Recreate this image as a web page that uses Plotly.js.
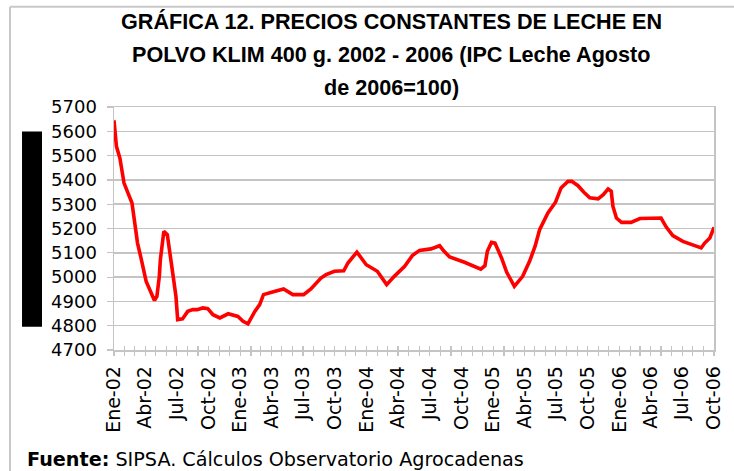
<!DOCTYPE html>
<html>
<head>
<meta charset="utf-8">
<script src="https://cdn.plot.ly/plotly-3.0.1.min.js"></script>
<style>html,body{margin:0;padding:0;background:#fff;}#chart{width:734px;height:471px;}</style>
</head>
<body>
<div id="chart"></div>
<script>
var fechas = ['2002-01-01','2002-01-08','2002-01-18','2002-01-30','2002-02-22','2002-03-10','2002-03-19','2002-04-04','2002-04-28','2002-05-05','2002-05-12','2002-05-15','2002-05-25','2002-06-04','2002-06-17','2002-06-29','2002-07-04','2002-07-18','2002-08-02','2002-08-17','2002-08-29','2002-09-15','2002-09-29','2002-10-14','2002-11-03','2002-11-27','2002-12-25','2003-01-09','2003-01-23','2003-02-12','2003-02-26','2003-03-09','2003-03-30','2003-05-06','2003-06-02','2003-07-03','2003-07-24','2003-08-22','2003-09-06','2003-09-30','2003-10-27','2003-11-08','2003-12-04','2003-12-31','2004-02-01','2004-02-28','2004-03-21','2004-04-20','2004-05-13','2004-06-02','2004-07-05','2004-07-30','2004-08-12','2004-08-28','2004-10-10','2004-11-26','2004-12-08','2004-12-15','2004-12-27','2005-01-06','2005-01-25','2005-02-09','2005-03-03','2005-03-27','2005-04-16','2005-05-02','2005-05-15','2005-06-08','2005-06-30','2005-07-16','2005-07-21','2005-08-05','2005-08-16','2005-09-03','2005-09-20','2005-10-07','2005-10-31','2005-11-15','2005-11-29','2005-12-08','2005-12-13','2005-12-23','2006-01-07','2006-02-03','2006-03-01','2006-03-23','2006-04-22','2006-05-01','2006-05-16','2006-06-04','2006-07-03','2006-08-01','2006-08-25','2006-09-04','2006-09-19','2006-10-01'];
var precios = [5645,5538,5490,5387,5305,5140,5085,4982,4904,4921,5003,5072,5188,5175,5044,4921,4825,4828,4859,4866,4866,4873,4870,4845,4832,4849,4838,4818,4808,4859,4887,4928,4937,4951,4928,4928,4951,4996,5010,5024,5026,5058,5103,5051,5024,4969,5003,5044,5090,5110,5116,5129,5106,5083,5061,5033,5047,5106,5143,5140,5079,5020,4962,5003,5065,5127,5195,5264,5308,5367,5374,5394,5394,5376,5349,5326,5322,5339,5363,5353,5291,5243,5225,5225,5241,5241,5243,5243,5206,5171,5147,5131,5120,5140,5161,5205];
var tickFechas = ['2002-01-01','2002-04-01','2002-07-01','2002-10-01','2003-01-01','2003-04-01','2003-07-01','2003-10-01','2004-01-01','2004-04-01','2004-07-01','2004-10-01','2005-01-01','2005-04-01','2005-07-01','2005-10-01','2006-01-01','2006-04-01','2006-07-01','2006-10-01'];
var tickEtiquetas = ['Ene-02','Abr-02','Jul-02','Oct-02','Ene-03','Abr-03','Jul-03','Oct-03','Ene-04','Abr-04','Jul-04','Oct-04','Ene-05','Abr-05','Jul-05','Oct-05','Ene-06','Abr-06','Jul-06','Oct-06'];
var tituloLineas = ['GRÁFICA 12. PRECIOS CONSTANTES DE LECHE EN','POLVO KLIM 400 g. 2002 - 2006 (IPC Leche Agosto','de 2006=100)'];

var rangoX = ['2002-01-01','2006-10-01'];
var yFont = {family:'DejaVu Sans, Arial, sans-serif', size:18, color:'#000'};
var xFont = {family:'DejaVu Sans, Arial, sans-serif', size:19, color:'#000'};
var gris = '#c4c4c4';

var trace = {
  x: fechas, y: precios, type:'scatter', mode:'lines',
  line:{color:'#ff0000', width:3.6}, hoverinfo:'skip', showlegend:false
};
var dummy = {x: rangoX, y:[4700,4700], xaxis:'x2', type:'scatter', mode:'none', showlegend:false, hoverinfo:'skip'};

var titleY = [1.352, 1.216, 1.080];
var annotations = tituloLineas.map(function(t,i){
  return {text:t, xref:'paper', yref:'paper', x:0.462, y:titleY[i], xanchor:'center', yanchor:'middle', showarrow:false,
    font:{family:'Liberation Sans, Arial, sans-serif', size:21.6, color:'#000', weight:'bold'}};
});
annotations.push({text:'<b>Fuente:</b> SIPSA. Cálculos Observatorio Agrocadenas', xref:'paper', yref:'paper', x:-0.148, y:-0.452,
  xanchor:'left', yanchor:'middle', showarrow:false, font:{family:'DejaVu Sans, Arial, sans-serif', size:19.2, color:'#000'}});

var layout = {
  width:734, height:471,
  margin:{l:114, r:20, t:107, b:121},
  paper_bgcolor:'#fff', plot_bgcolor:'#fff',
  xaxis:{type:'date', range:rangoX, tickvals:tickFechas, ticktext:tickEtiquetas, tickangle:-90,
    ticks:'outside', ticklen:4, tickcolor:gris, tickwidth:1.2, tickfont:xFont, ticklabelstandoff:3,
    minor:{dtick:'M1', tick0:'2002-01-01', ticks:'outside', ticklen:4, tickcolor:gris, tickwidth:1.2, showgrid:false},
    showgrid:false, zeroline:false, showline:true, linecolor:gris, linewidth:1.5, mirror:true, fixedrange:true},
  xaxis2:{type:'date', range:rangoX, overlaying:'x', anchor:'y', side:'bottom', dtick:'M1', tick0:'2002-01-01',
    ticks:'inside', ticklen:4, tickcolor:gris, tickwidth:1.2, showticklabels:false, showgrid:false, zeroline:false, showline:false},
  yaxis:{range:[4700,5700], dtick:100, ticks:'outside', ticklen:6, tickcolor:gris, tickwidth:1.2, tickfont:yFont,
    ticklabelstandoff:6, showgrid:true, gridcolor:gris, gridwidth:1.5, zeroline:false, showline:true, linecolor:gris,
    linewidth:1.5, mirror:true, fixedrange:true},
  annotations: annotations,
  shapes:[
    {type:'rect', xref:'paper', yref:'paper', x0:-0.1533, x1:-0.12, y0:0.0959, y1:0.8987, fillcolor:'#000', line:{width:0}},
    {type:'line', xref:'paper', yref:'paper', x0:-0.1733, x1:-0.1733, y0:1.413, y1:-0.6, line:{color:'#c8c8c8', width:2}},
    {type:'line', xref:'paper', yref:'paper', x0:-0.1733, x1:1.05, y0:1.413, y1:1.413, line:{color:'#c8c8c8', width:2}}
  ]
};
Plotly.newPlot('chart', [trace, dummy], layout, {displayModeBar:false, staticPlot:true});
</script>
</body>
</html>
